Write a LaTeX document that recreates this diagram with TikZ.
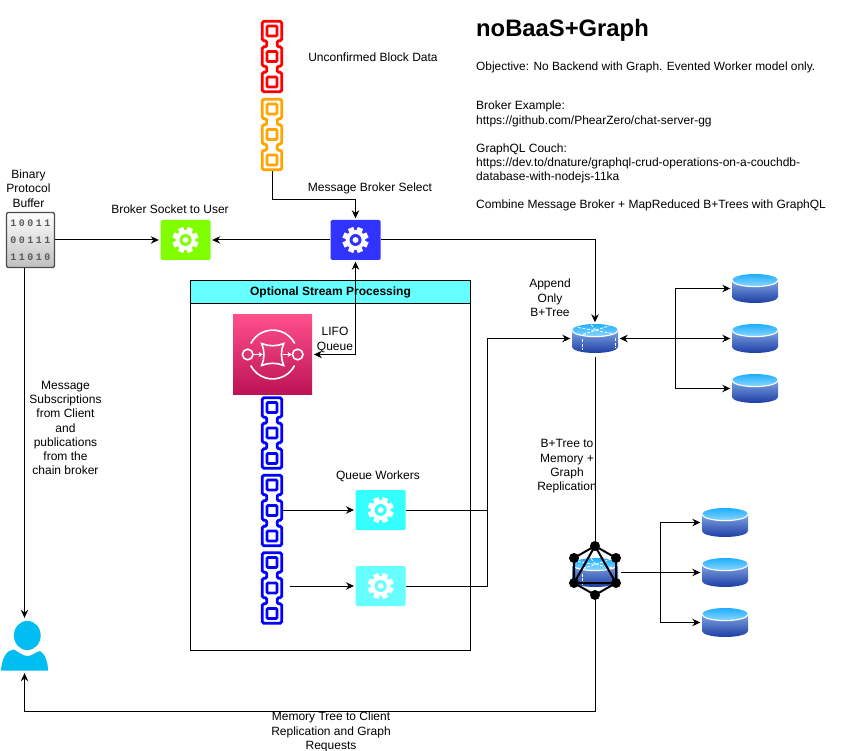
\documentclass[tikz,border=0pt]{standalone}
\usepackage{fontspec}
\usepackage{xcolor}
\usepackage{tikz}
\usetikzlibrary{arrows.meta}
\setmainfont{Liberation Sans}
\newfontfamily\bitfont[LetterSpace=25]{Liberation Mono}

\definecolor{greenbox}{HTML}{80FF00}
\definecolor{bluebox}{HTML}{3333FF}
\definecolor{cyanbox}{HTML}{33FFFF}
\definecolor{paleCyan}{HTML}{66FFFF}
\definecolor{userblue}{HTML}{00BEF2}
\definecolor{orangelink}{HTML}{FFA500}
\definecolor{diskTopA}{HTML}{1EAEFF}
\definecolor{diskTopB}{HTML}{8CD6FF}
\definecolor{diskMid}{HTML}{7FA3E0}
\definecolor{diskLow}{HTML}{1C3EA6}
\definecolor{pinkTop}{HTML}{FF4F8B}
\definecolor{pinkLow}{HTML}{BC1356}

\tikzset{
  txt/.style={align=center,inner sep=0pt,font=\fontsize{12}{14.3}\selectfont},
  txtleft/.style={txt,align=left,anchor=north west},
  gearbox/.style={fill=#1,rounded corners=1.5pt,minimum width=50pt,minimum height=40pt,inner sep=0pt},
  chainbox/.style={minimum width=22pt,minimum height=73pt,inner sep=0pt},
  diskbox/.style={minimum width=46pt,minimum height=29pt,inner sep=0pt},
  graphdot/.style={circle,fill=black,minimum size=10pt,inner sep=0pt},
  link/.style={line width=1pt,-{Stealth[length=8pt,width=7.5pt]},shorten >=1.5pt},
  plainlink/.style={line width=1pt}
}

\newcommand{\gearicon}[3]{
  \node[gearbox=#3] (#1) at (#2) {};
  \fill[white] (#1) circle (9.8);
  \foreach \a in {0,45,...,315}
    \fill[white,shift={(#1)},rotate=\a+22.5] (-2.8,-13) rectangle (2.8,-8);
  \fill[#3] (#1) circle (6);
  \fill[white] (#1) circle (2.9);
}

\newcommand{\chainicon}[3]{
  \node[chainbox] (#1) at (#2) {};
  \draw[#3,line width=2.7pt,rounded corners=1.5pt,shift={(#1)}]
    (-9.7,-35.2) -- (9.7,-35.2) -- (9.7,-15.8) -- (5.2,-15.8) -- (5.2,-9.7) -- (9.7,-9.7)
    -- (9.7,9.7) -- (5.2,9.7) -- (5.2,15.8) -- (9.7,15.8) -- (9.7,35.2) -- (-9.7,35.2)
    -- (-9.7,15.8) -- (-5.2,15.8) -- (-5.2,9.7) -- (-9.7,9.7) -- (-9.7,-9.7)
    -- (-5.2,-9.7) -- (-5.2,-15.8) -- (-9.7,-15.8) -- cycle;
  \foreach \d in {-25.5,0,25.5}
    \draw[#3,line width=2.7pt,rounded corners=1pt,shift={(#1)}] (-5,\d-5) rectangle (5,\d+5);
}

\newcommand{\diskicon}[2]{
  \node[diskbox] (#1) at (#2) {};
  \begin{scope}[shift={(#1)}]
    \shade[top color=diskMid,bottom color=diskLow] (-23,-8) -- (-23,8.5)
      arc[start angle=180,end angle=0,x radius=23,y radius=6] -- (23,-8) -- cycle;
    \shade[top color=diskTopA,bottom color=diskTopB] (0,-8.2) ellipse (23 and 6.3);
    \draw[white,line width=1.1pt] (-23,-8.2) arc[start angle=180,end angle=0,x radius=23,y radius=6.3];
  \end{scope}
}

\newcommand{\routermarks}[1]{
  \begin{scope}[shift={(#1)},white,line width=0.8pt,dash pattern=on 3pt off 1.5pt]
    \draw (-17,-11) -- (17,-5);
    \draw (-12,-4) -- (15,-13);
    \draw (-4,-14) -- (1,-8);
    \draw (-13,1) -- (-13,12);
    \draw (20,0) -- (20,10);
  \end{scope}
}

\begin{document}
\begin{tikzpicture}[x=1pt,y=-1pt]
  \useasboundingbox (0,0) rectangle (841,751);
  \fill[white] (0,0) rectangle (841,751);

  \node[txt,anchor=west,font=\bfseries\fontsize{23.8}{28}\selectfont] (titleText) at (476,30) {noBaaS+Graph};
  \node[txtleft,font=\fontsize{11.9}{14.3}\selectfont] (objectiveText) at (476,62) {Objective: No Backend with Graph. Evented Worker model only.};
  \node[txtleft] (brokerText) at (476,101) {Broker Example:\\https://github.com/PhearZero/chat-server-gg};
  \node[txtleft] (couchText) at (476,143.5) {GraphQL Couch:\\https://dev.to/dnature/graphql-crud-operations-on-a-couchdb-\\database-with-nodejs-11ka};
  \node[txtleft] (combineText) at (476,199.5) {Combine Message Broker + MapReduced B+Trees with GraphQL};

  \node[txt] (unconfirmedText) at (373,57) {Unconfirmed Block Data};
  \node[txt] (selectText) at (370,188.5) {Message Broker Select};
  \node[txt] (socketText) at (170,209) {Broker Socket to User};
  \node[txt] (bufferText) at (28.5,188.5) {Binary\\Protocol\\Buffer};
  \node[txt] (subscriptionText) at (65.5,428) {Message\\Subscriptions\\from Client\\and\\publications\\from the\\chain broker};
  \node[txt] (appendText) at (550,298) {Append\\Only\\B+Tree};
  \node[txt] (replicationText) at (567,466.5) {B+Tree to\\Memory +\\Graph\\Replication};
  \node[txt] (memoryText) at (331,732) {Memory Tree to Client\\Replication and Graph\\Requests};

  \chainicon{chainRed}{272,56.5}{red}
  \chainicon{chainOrange}{272,134.5}{orangelink}

  \node[draw=black,line width=1pt,minimum width=280pt,minimum height=369pt,inner sep=0pt] (streamBox) at (330.5,465.5) {};
  \node[draw=black,line width=1pt,fill=paleCyan,minimum width=280pt,minimum height=23pt,inner sep=0pt,
    font=\bfseries\fontsize{12}{14}\selectfont] (streamHead) at (330.5,292.5) {Optional Stream Processing};

  \node[top color=pinkTop,bottom color=pinkLow,minimum size=79pt,inner sep=0pt] (queueBox) at (272.7,354.5) {};
  \begin{scope}[shift={(queueBox)},white,line width=1.6pt]
    \draw (22,-11) arc[start angle=-27,end angle=-153,radius=24.6];
    \draw (-22,11) arc[start angle=153,end angle=27,radius=24.6];
    \draw (-25,0) circle (5.3);
    \draw (25,0) circle (5.3);
    \draw (-11,-11) .. controls (-4,-8) and (4,-8) .. (11,-11) .. controls (8,-4) and (8,4) .. (11,11)
      .. controls (4,8) and (-4,8) .. (-11,11) .. controls (-8,4) and (-8,-4) .. (-11,-11) -- cycle;
    \draw[-{Stealth[length=4pt,width=5pt]}] (-19,0) -- (-10,0);
    \draw[-{Stealth[length=4pt,width=5pt]}] (10,0) -- (19,0);
  \end{scope}
  \node[txt] (lifoText) at (335,340) {LIFO\\Queue};

  \chainicon{chainBlueA}{272,433}{blue}
  \chainicon{chainBlueB}{272,510.5}{blue}
  \chainicon{chainBlueC}{272,588}{blue}

  \gearicon{socketGear}{185.5,240}{greenbox}
  \gearicon{brokerGear}{355.5,240}{bluebox}
  \gearicon{workerA}{380.7,510}{cyanbox}
  \gearicon{workerB}{380.7,586}{paleCyan}
  \node[txt] (workersText) at (378,476) {Queue Workers};

  \node[draw=black!70,line width=1.3pt,rounded corners=2pt,top color=white,bottom color=black!25,
    minimum width=48pt,minimum height=55pt,inner sep=0pt,align=center,
    font=\bitfont\bfseries\fontsize{10}{17}\selectfont,text=black!65] (bufferBox) at (30.5,240) {10011\\00111\\11010};

  \node[inner sep=0pt,minimum width=48pt,minimum height=52pt] (userIcon) at (24.5,645.5) {};
  \fill[userblue] (27.3,635.5) ellipse (13.4 and 14.6);
  \fill[userblue] (1,670.5) .. controls (2,657) and (7,650) .. (14,649.5) .. controls (20,653) and (23,656) .. (28,656)
    .. controls (32,656) and (36,652) .. (40,651) .. controls (45,654) and (48,662) .. (48,670.5) -- cycle;

  \diskicon{routerA}{595,338.5}
  \routermarks{routerA}
  \diskicon{diskA}{755,288.5}
  \diskicon{diskB}{755,338.5}
  \diskicon{diskC}{755,388.5}
  \diskicon{routerB}{595,572.5}
  \routermarks{routerB}
  \diskicon{diskD}{725,522.5}
  \diskicon{diskE}{725,572.5}
  \diskicon{diskF}{725,622.5}

  \node[graphdot] (gqlTop) at (595,546) {};
  \node[graphdot] (gqlUpLeft) at (574,558) {};
  \node[graphdot] (gqlUpRight) at (616,558) {};
  \node[graphdot] (gqlLowLeft) at (574,583) {};
  \node[graphdot] (gqlLowRight) at (616,583) {};
  \node[graphdot] (gqlBottom) at (595,595) {};
  \draw[line width=2pt] (gqlTop.center) -- (gqlUpRight.center) -- (gqlLowRight.center) -- (gqlBottom.center)
    -- (gqlLowLeft.center) -- (gqlUpLeft.center) -- cycle;
  \draw[line width=2pt] (gqlTop.center) -- (gqlLowRight.center) -- (gqlLowLeft.center) -- cycle;

  \coordinate (selectBend) at (355.5,200);
  \coordinate (routerJoin) at (487,338.5);
  \coordinate (branchTop) at (675.5,338.5);
  \coordinate (branchLow) at (660.5,572.5);
  \coordinate (userBend) at (24.5,711);

  \draw[link] (bufferBox.east) -- (socketGear.west);
  \draw[link] (brokerGear.west) -- (socketGear.east);
  \draw[link] (brokerGear.east) -| (routerA.north);
  \draw[link] (chainOrange.south) |- (selectBend) -- (brokerGear.north);
  \draw[line width=1pt,{Stealth[length=8pt,width=7.5pt]}-{Stealth[length=8pt,width=7.5pt]},shorten >=1.5pt,shorten <=1.5pt]
    (brokerGear.south) |- (queueBox.east);
  \draw[link] (bufferBox.south -| userIcon.north) -- (userIcon.north);
  \draw[link] (workerA.west -| chainBlueB.east) -- (workerA.west);
  \draw[link,shorten <=7pt] (workerB.west -| chainBlueC.east) -- (workerB.west);
  \draw[plainlink] (workerA.east) -| (routerJoin);
  \draw[plainlink] (workerB.east) -| (routerJoin);
  \draw[link] (routerJoin) -- (routerA.west);
  \draw[link] (branchTop) -- (routerA.east);
  \draw[link] (branchTop) |- (diskA.west);
  \draw[link] (branchTop) -- (diskB.west);
  \draw[link] (branchTop) |- (diskC.west);
  \draw[plainlink,shorten <=4pt] (routerA.south) -- (gqlTop.north);
  \draw[plainlink,shorten <=3pt] (routerB.east) -- (branchLow);
  \draw[link] (branchLow) |- (diskD.west);
  \draw[link] (branchLow) -- (diskE.west);
  \draw[link] (branchLow) |- (diskF.west);
  \draw[link] (gqlBottom.south) |- (userBend) -- (userIcon.south);
\end{tikzpicture}
\end{document}
